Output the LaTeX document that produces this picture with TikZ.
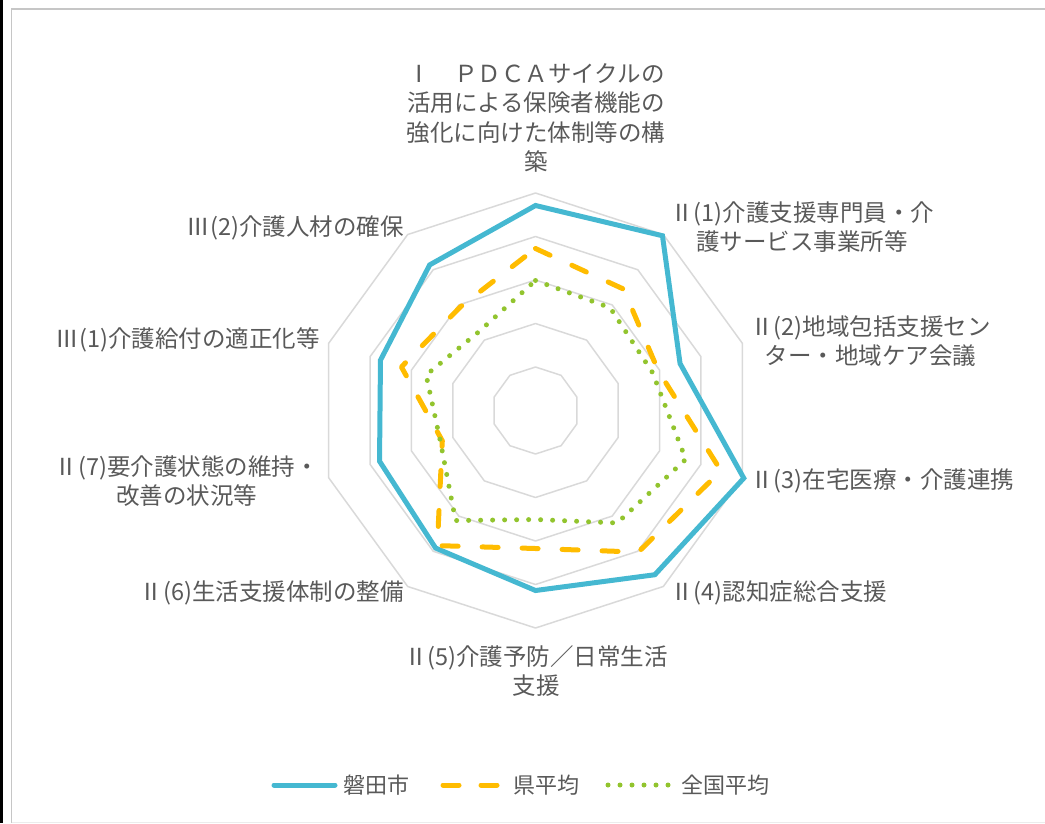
\documentclass[tikz,border=0pt]{standalone}
\usepackage{fontspec}
\setmainfont{Noto Sans CJK JP}
\definecolor{iwata}{RGB}{69,184,209}
\definecolor{ken}{RGB}{255,188,0}
\definecolor{zenkoku}{RGB}{146,196,46}
\definecolor{gridgray}{RGB}{217,217,217}
\definecolor{txt}{RGB}{89,89,89}
\tikzset{
  lbl/.style={inner sep=0pt, text=txt, align=center, font=\fontsize{23.5}{29.5}\selectfont},
  key/.style={inner sep=0pt, text=txt, anchor=west, font=\fontsize{22}{26}\selectfont},
  ring/.style={draw=gridgray, line width=1.5pt, line join=round},
  iwataline/.style={iwata, line width=5pt, line join=miter},
  kenline/.style={ken, line width=5pt, line cap=round, line join=round, dash pattern=on 16pt off 24pt},
  zenkokuline/.style={zenkoku, line width=5pt, line cap=round, dash pattern=on 0pt off 12pt},
}
\begin{document}
\begin{tikzpicture}[x=1pt, y=-1pt]
    \useasboundingbox (0,0) rectangle (1045,823);
    \fill[black] (0,0) rectangle (3,823);
    \draw[gray!45, line width=1.5pt] (11.5,823) -- (11.5,9) -- (1045,9);
    \draw[gray!15, line width=1pt] (11.5,822) -- (1045,822);

    \begin{scope}[shift={(535.5,410.5)}]
        \foreach \r in {43.5,87,130.5,174,217.5}
            \draw[ring] (-90:\r) \foreach \a in {-54,-18,...,234} { -- (\a:\r) } -- cycle;

        \draw[iwataline] (-90:205) -- (-54:216) -- (-18:152) -- (18:219) -- (54:203) -- (90:180) -- (126:170) -- (162:164) -- (198:163) -- (234:180) -- cycle;
        \draw[kenline] (-90:162) -- (-54:150) -- (-18:129) -- (18:195) -- (54:175) -- (90:138) -- (126:167) -- (162:98) -- (198:141) -- (234:128) -- cycle;
        \draw[zenkokuline] (-90:130) -- (-54:127) -- (-18:123) -- (18:158) -- (54:139) -- (90:109) -- (126:136) -- (162:100) -- (198:115) -- (234:97) -- cycle;
    \end{scope}

    \node[lbl] (c0) at (536,118) {Ⅰ　ＰＤＣＡサイクルの\\活用による保険者機能の\\強化に向けた体制等の構\\築};
    \node[lbl, anchor=west] (c1) at (670,227) {Ⅱ(1)介護支援専門員・介\\護サービス事業所等};
    \node[lbl, anchor=west] (c2) at (750,341) {Ⅱ(2)地域包括支援セン\\ター・地域ケア会議};
    \node[lbl, anchor=west] (c3) at (750,481) {Ⅱ(3)在宅医療・介護連携};
    \node[lbl, anchor=west] (c4) at (670,593) {Ⅱ(4)認知症総合支援};
    \node[lbl] (c5) at (536,671) {Ⅱ(5)介護予防／日常生活\\支援};
    \node[lbl, anchor=east] (c6) at (404,593) {Ⅱ(6)生活支援体制の整備};
    \node[lbl, anchor=east] (c7) at (319,481) {Ⅱ(7)要介護状態の維持・\\改善の状況等};
    \node[lbl, anchor=east] (c8) at (320,340) {Ⅲ(1)介護給付の適正化等};
    \node[lbl, anchor=east] (c9) at (404,228) {Ⅲ(2)介護人材の確保};

    \draw[iwata, line width=5pt, line cap=round] (274,785) -- (335,785); \node[key] (k1) at (343,785) {磐田市};
    \draw[ken, line width=5pt, line cap=round] (443,785) -- (459,785); \draw[ken, line width=5pt, line cap=round] (481,785) -- (497,785); \node[key] (k2) at (513,785) {県平均};
    \draw[zenkoku, line width=5pt, line cap=round, dash pattern=on 0pt off 12pt] (608,785) -- (669,785); \node[key] (k3) at (681,785) {全国平均};
\end{tikzpicture}
\end{document}
